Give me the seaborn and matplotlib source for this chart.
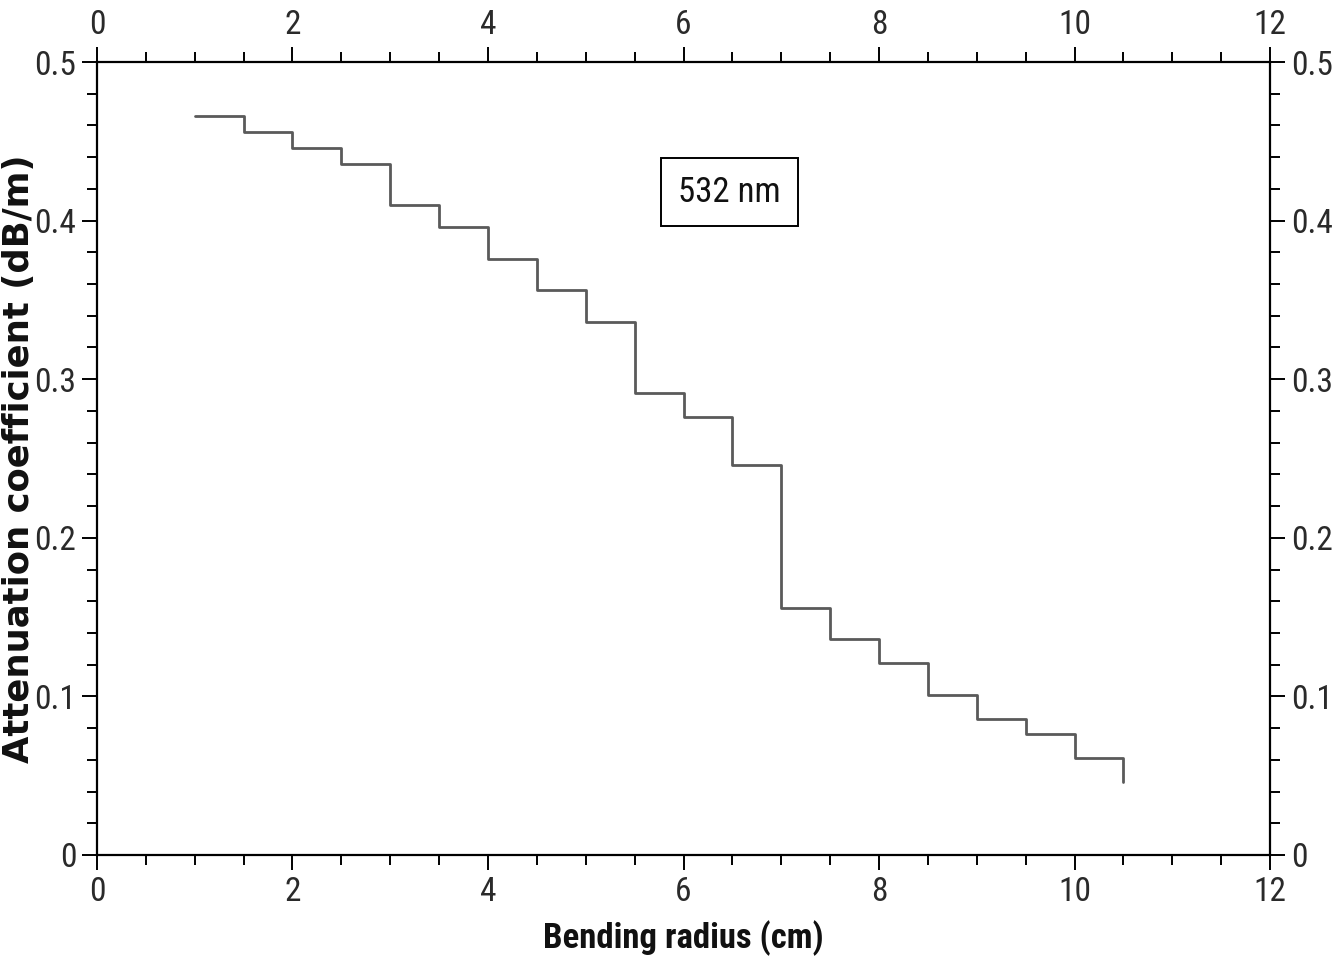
import matplotlib
matplotlib.use("Agg")
import matplotlib.pyplot as plt
from matplotlib.ticker import MultipleLocator, FuncFormatter
from matplotlib import font_manager as fm
import seaborn as sns
import pandas as pd

# Data
radius_cm = [1.0, 1.5, 2.0, 2.5, 3.0, 3.5, 4.0, 4.5, 5.0, 5.5,
             6.0, 6.5, 7.0, 7.5, 8.0, 8.5, 9.0, 9.5, 10.0, 10.5]
attenuation = [0.466, 0.456, 0.446, 0.436, 0.410, 0.396, 0.376, 0.356, 0.336, 0.291,
               0.276, 0.246, 0.156, 0.136, 0.121, 0.101, 0.086, 0.076, 0.061, 0.046]
annotation = "532 nm"
x_label = "Bending radius (cm)"
y_label = "Attenuation coefficient (dB/m)"

sns.set_style("ticks")

available = {f.name for f in fm.fontManager.ttflist}
if "Liberation Sans Narrow" in available:
    tick_font = "Liberation Sans Narrow"
elif "Roboto Condensed" in available:
    tick_font = "Roboto Condensed"
else:
    tick_font = "Roboto"
plt.rcParams['font.family'] = [tick_font, 'DejaVu Sans']

df = pd.DataFrame({"r": radius_cm, "a": attenuation})

fig = plt.figure(figsize=(13.43, 9.57), dpi=100)
ax = fig.add_axes([0.0722, 0.1066, 0.8735, 0.8286])

sns.lineplot(data=df, x="r", y="a", ax=ax, color="#5a5a5a", linewidth=2.0,
             drawstyle="steps-post", sort=False)

ax.set_xlim(0, 12)
ax.set_ylim(0, 0.5)
ax.xaxis.set_major_locator(MultipleLocator(2))
ax.xaxis.set_minor_locator(MultipleLocator(0.5))
ax.yaxis.set_major_locator(MultipleLocator(0.1))
ax.yaxis.set_minor_locator(MultipleLocator(0.02))

def yfmt(v, pos):
    if abs(v) < 1e-9:
        return "0"
    return f"{v:.1f}"
ax.yaxis.set_major_formatter(FuncFormatter(yfmt))
ax.xaxis.set_major_formatter(FuncFormatter(lambda v, p: f"{int(round(v))}"))

for side in ["top", "right", "left", "bottom"]:
    ax.spines[side].set_visible(True)
    ax.spines[side].set_linewidth(1.6)
    ax.spines[side].set_color("black")

ax.tick_params(which="both", direction="out", top=True, right=True,
               labeltop=True, labelright=True, colors="black", width=1.4)
ax.tick_params(which="major", length=11, labelsize=24, pad=4,
               labelcolor="#2a2a2a")
ax.tick_params(which="minor", length=7)

ax.set_xlabel(x_label, fontsize=25, fontweight="bold", labelpad=9,
              family=[tick_font, "DejaVu Sans"], color="#111111")
ax.set_ylabel(y_label, fontsize=25.5, fontweight="bold",
              family=["DejaVu Sans"], color="#111111")
ax.yaxis.set_label_coords(-0.052, 0.5)

ax.text(6.47, 0.418, annotation, fontsize=25, ha="center", va="center",
        color="#111111",
        bbox=dict(boxstyle="square,pad=0.5", facecolor="white",
                  edgecolor="black", linewidth=1.4))

fig.savefig("out.png", dpi=100, facecolor="white")
